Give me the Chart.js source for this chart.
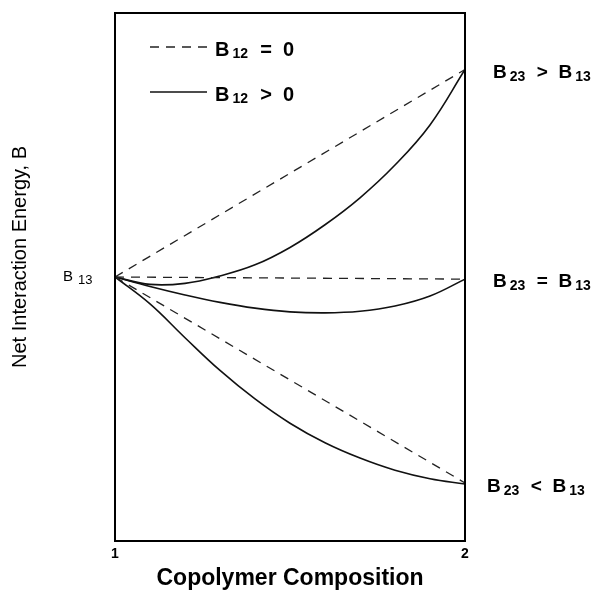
<!DOCTYPE html>
<html>
<head>
<meta charset="utf-8">
<script src="https://cdn.jsdelivr.net/npm/chart.js@4/dist/chart.umd.min.js"></script>
<style>
    html, body { margin: 0; padding: 0; background: #fff; }
    canvas { display: block; }
</style>
</head>
<body>
<canvas id="chart" width="596" height="593"></canvas>
<script>
// composition axis: 1 -> 2, energy in arbitrary units (0..100)
const xTicks = [1, 2];
const compX = [1, 1.1, 1.2, 1.3, 1.4, 1.5, 1.6, 1.7, 1.8, 1.9, 2];

// B12 > 0 (solid curves)
const upperSolidY = [50, 48.6, 48.8, 50.2, 52.3, 55.6, 59.9, 65.0, 71.2, 78.8, 89.3];
const middleSolidY = [50, 48.2, 46.6, 45.2, 44.1, 43.4, 43.2, 43.5, 44.5, 46.4, 49.6];
const lowerSolidY = [50, 44.9, 38.5, 32.3, 26.9, 22.3, 18.6, 15.7, 13.4, 11.8, 10.8];

// B12 = 0 (dashed straight lines)
const dashedX = [1, 2];
const upperDashedY = [50, 89.3];
const middleDashedY = [50, 49.6];
const lowerDashedY = [50, 11.0];

const startLabel = 'B_13';
const endLabels = ['B_23  >  B_13', 'B_23  =  B_13', 'B_23  <  B_13'];
const endValues = [89.3, 49.6, 10.8];
const legendLabels = ['B_12  =  0', 'B_12  >  0'];
const yTitle = 'Net Interaction Energy, B';

const FONT = '"Liberation Sans", Arial, sans-serif';
const pts = (xs, ys) => xs.map((x, i) => ({ x, y: ys[i] }));

const solid = (xs, ys) => ({
    data: pts(xs, ys),
    borderColor: '#111',
    borderWidth: 1.6,
    tension: 0.4,
    pointRadius: 0,
    fill: false,
});
const dashed = (xs, ys) => ({
    data: pts(xs, ys),
    borderColor: '#222',
    borderWidth: 1.3,
    borderDash: [9, 7],
    tension: 0,
    pointRadius: 0,
    fill: false,
});

// draws "B_23 > B_13" style text with subscripts
const richText = (ctx, str, x, y, size, weight, subScale = 0.72, gap = 3) => {
    const parts = str.split(/_(\d+)/);
    let cx = x;
    parts.forEach((p, i) => {
        const sub = i % 2 === 1;
        const fs = sub ? Math.round(size * subScale) : size;
        ctx.font = `${weight} ${fs}px ${FONT}`;
        if (sub) cx += gap;
        ctx.fillText(p, cx, y + (sub ? size * 0.22 : 0));
        cx += ctx.measureText(p).width + (sub ? 1 : 0);
    });
    return cx - x;
};

const decorations = {
    id: 'decorations',
    afterDatasetsDraw(chart) {
        const { ctx, chartArea: a, scales: { x, y } } = chart;
        ctx.save();
        ctx.strokeStyle = '#000';
        ctx.lineWidth = 2;
        ctx.strokeRect(a.left, a.top, a.right - a.left, a.bottom - a.top);

        ctx.fillStyle = '#000';
        ctx.textBaseline = 'middle';
        ctx.textAlign = 'left';

        // B13 at start
        richText(ctx, startLabel, x.getPixelForValue(1) - 52, y.getPixelForValue(50), 15, 'normal', 0.85, 5);

        // end labels
        const offs = [28, 28, 22];
        endLabels.forEach((t, i) => {
            richText(ctx, t, x.getPixelForValue(2) + offs[i], y.getPixelForValue(endValues[i]) + 3, 19, 'bold');
        });

        // legend
        const ly = [a.top + 34, a.top + 79];
        ly.forEach((yy, i) => {
            ctx.beginPath();
            ctx.lineWidth = i === 0 ? 1.3 : 1.6;
            ctx.strokeStyle = i === 0 ? '#222' : '#111';
            ctx.setLineDash(i === 0 ? [9, 7] : []);
            ctx.moveTo(a.left + 35, yy);
            ctx.lineTo(a.left + 92, yy);
            ctx.stroke();
            ctx.setLineDash([]);
            richText(ctx, legendLabels[i], a.left + 100, yy + 3, 20, 'bold');
        });

        // y axis title
        ctx.translate(20, 257);
        ctx.rotate(-Math.PI / 2);
        ctx.textAlign = 'center';
        ctx.font = `normal 20px ${FONT}`;
        ctx.fillText(yTitle, 0, 0);
        ctx.restore();
    },
};

new Chart(document.getElementById('chart'), {
    type: 'line',
    data: {
        datasets: [
            dashed(dashedX, upperDashedY),
            dashed(dashedX, middleDashedY),
            dashed(dashedX, lowerDashedY),
            solid(compX, upperSolidY),
            solid(compX, middleSolidY),
            solid(compX, lowerSolidY),
        ],
    },
    options: {
        responsive: false,
        animation: false,
        layout: { padding: { top: 13, right: 131, left: 0, bottom: 0 } },
        plugins: {
            legend: { display: false },
            tooltip: { enabled: false },
        },
        scales: {
            x: {
                type: 'linear',
                min: 1,
                max: 2,
                afterBuildTicks: (s) => { s.ticks = xTicks.map((v) => ({ value: v })); },
                afterFit: (s) => { s.height = 52; },
                grid: { display: false, drawTicks: false },
                border: { display: false },
                ticks: {
                    color: '#000',
                    padding: 5,
                    font: { family: FONT, size: 14, weight: 'bold' },
                },
                title: {
                    display: true,
                    text: 'Copolymer Composition',
                    color: '#000',
                    padding: { top: 0, bottom: 1 },
                    font: { family: FONT, size: 23, weight: 'bold' },
                },
            },
            y: {
                min: 0,
                max: 100,
                afterFit: (s) => { s.width = 115; },
                grid: { display: false, drawTicks: false },
                border: { display: false },
                ticks: { display: false },
            },
        },
    },
    plugins: [decorations],
});
</script>
</body>
</html>
